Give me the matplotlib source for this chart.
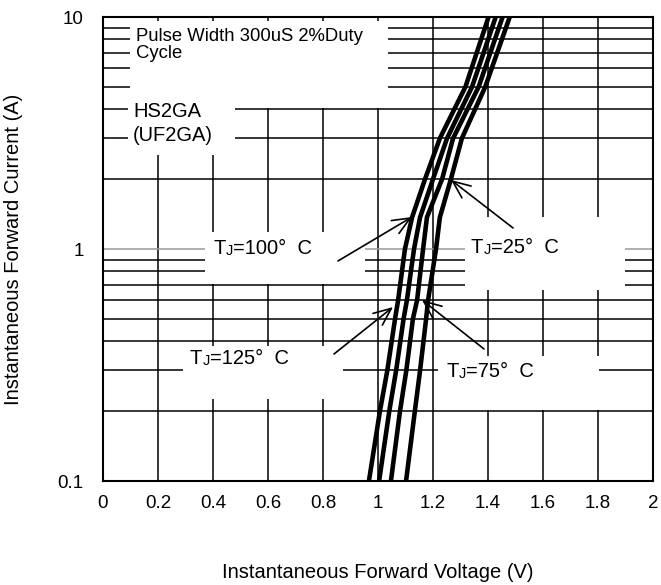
import matplotlib
matplotlib.use("Agg")
import matplotlib.pyplot as plt
from matplotlib.patches import Rectangle

plt.rcParams['font.family'] = ['Liberation Sans', 'DejaVu Sans']

# ---- data ----
current = [0.1, 0.2, 0.3, 0.5, 0.6, 1.0, 1.37, 2.0, 3.0, 5.0, 10.0]
v_125 = [0.967, 1.007, 1.034, 1.062, 1.073, 1.098, 1.124, 1.171, 1.225, 1.318, 1.402]
v_100 = [1.004, 1.041, 1.066, 1.093, 1.105, 1.131, 1.153, 1.200, 1.251, 1.342, 1.428]
v_75 = [1.047, 1.080, 1.103, 1.127, 1.142, 1.164, 1.178, 1.233, 1.273, 1.366, 1.453]
v_25 = [1.102, 1.134, 1.153, 1.175, 1.182, 1.211, 1.225, 1.265, 1.305, 1.390, 1.479]

x_ticks = [0, 0.2, 0.4, 0.6, 0.8, 1.0, 1.2, 1.4, 1.6, 1.8, 2.0]
x_tick_labels = ['0', '0.2', '0.4', '0.6', '0.8', '1', '1.2', '1.4', '1.6', '1.8', '2']
y_ticks = [0.1, 1, 10]
y_tick_labels = ['0.1', '1', '10']
y_minor = [0.2, 0.3, 0.4, 0.5, 0.6, 0.7, 0.8, 0.9, 2, 3, 4, 5, 6, 7, 8, 9]
x_grid = [0.2, 0.4, 0.6, 0.8, 1.0, 1.2, 1.4, 1.6, 1.8]

fig = plt.figure(figsize=(6.61, 5.85), dpi=100)
ax = fig.add_axes([103/661, 104/585, 550/661, 464/585])
ax.set_yscale('log')
ax.set_xlim(0, 2)
ax.set_ylim(0.1, 10)

# grid
for v in x_grid:
    ax.axvline(v, color='black', lw=1.1, zorder=1)
for v in y_minor:
    ax.axhline(v, color='black', lw=1.1, zorder=1)
ax.axhline(1, color='#999999', lw=1.1, zorder=1)

ax.set_xticks(x_ticks)
ax.set_xticklabels(x_tick_labels)
ax.set_yticks(y_ticks)
ax.set_yticklabels(y_tick_labels)
ax.yaxis.set_minor_locator(matplotlib.ticker.NullLocator())
ax.tick_params(length=0, labelsize=13.5)
ax.tick_params(axis='y', pad=14)
ax.tick_params(axis='x', pad=10)
for s in ax.spines.values():
    s.set_linewidth(1.5)
    s.set_zorder(5)

# white label boxes (axes fraction)
boxes = [(0.049, 0.804, 0.469, 0.187),
         (0.045, 0.703, 0.195, 0.129),
         (0.185, 0.425, 0.291, 0.112),
         (0.658, 0.412, 0.291, 0.157),
         (0.145, 0.177, 0.291, 0.114),
         (0.609, 0.153, 0.293, 0.116)]
for (bx, by, bw, bh) in boxes:
    ax.add_patch(Rectangle((bx, by), bw, bh, transform=ax.transAxes,
                           facecolor='white', edgecolor='none', zorder=2))

# curves
for v in (v_125, v_100, v_75, v_25):
    ax.plot(v, current, color='black', lw=3.3, zorder=3, solid_capstyle='butt',
            solid_joinstyle='round')

# texts
ax.text(0.06, 0.940, 'Pulse Width 300uS 2%Duty\nCycle', transform=ax.transAxes,
        fontsize=13.3, va='center', ha='left', linespacing=0.98, zorder=4)
ax.text(0.0545, 0.771, 'HS2GA\n(UF2GA)', transform=ax.transAxes,
        fontsize=14.5, va='center', ha='left', linespacing=1.3, zorder=4)


def tj_label(x, y, rest):
    t = ax.text(x, y, 'T', transform=ax.transAxes, fontsize=14.5,
                va='center', ha='left', zorder=4)
    j = ax.annotate('J', xy=(1, 0), xycoords=t, fontsize=10.5,
                    va='bottom', ha='left', zorder=4)
    ax.annotate(rest, xy=(1, 0), xycoords=j, fontsize=14.5,
                va='bottom', ha='left', zorder=4)


tj_label(0.2, 0.502, '=100°  C')
tj_label(0.669, 0.504, '=25°  C')
tj_label(0.158, 0.265, '=125°  C')
tj_label(0.625, 0.235, '=75°  C')

arrows = [((1.1236, 1.374), (0.8545, 0.888)),
          ((1.2655, 1.984), (1.491, 1.232)),
          ((1.0545, 0.562), (0.84, 0.3527)),
          ((1.16, 0.603), (1.3855, 0.3707))]
for tip, start in arrows:
    ax.annotate('', xy=tip, xytext=start,
                arrowprops=dict(arrowstyle='->,head_length=0.7,head_width=0.3',
                                lw=1.2, color='black', shrinkA=0, shrinkB=0,
                                mutation_scale=18),
                zorder=4)

fig.text(378/661, 1 - 572/585, 'Instantaneous Forward Voltage (V)', fontsize=14.5,
         ha='center', va='center')
fig.text(14/661, 1 - 249/585, 'Instantaneous Forward Current (A)', fontsize=14.5,
         ha='center', va='center', rotation=90)

fig.savefig('out.png', dpi=100)
